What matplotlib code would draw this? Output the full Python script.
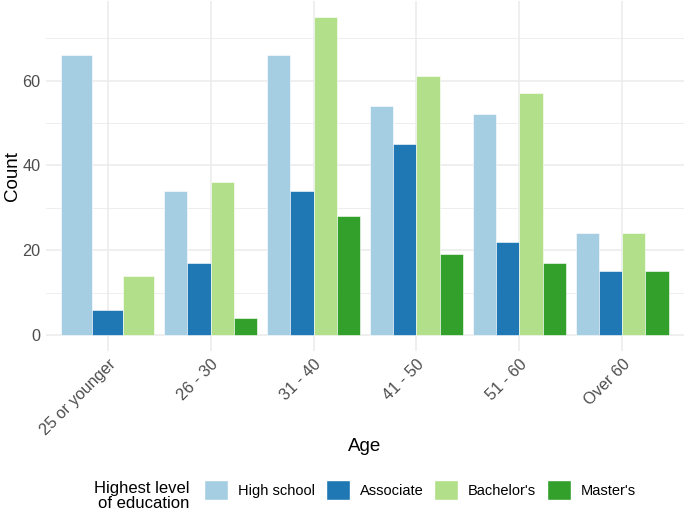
import numpy as np
import matplotlib.pyplot as plt
from matplotlib.patches import Patch

plt.rcParams['font.family'] = ['Liberation Sans', 'DejaVu Sans']

age_groups = ['25 or younger', '26 - 30', '31 - 40', '41 - 50', '51 - 60', 'Over 60']
levels = ['High school', 'Associate', "Bachelor's", "Master's"]
colors = ['#A6CEE3', '#1F78B4', '#B2DF8A', '#33A02C']

high_school = [66, 34, 66, 54, 52, 24]
associate = [6, 17, 34, 45, 22, 15]
bachelors = [14, 36, 75, 61, 57, 24]
masters = [None, 4, 28, 19, 17, 15]

series = [high_school, associate, bachelors, masters]

fig = plt.figure(figsize=(6.85, 5.14), dpi=100)
ax = fig.add_axes([46 / 685, 163 / 514, 638 / 685, 350 / 514])

grid_col = '#EBEBEB'
for v in [10, 30, 50, 70]:
    ax.axhline(v, color=grid_col, lw=0.6, zorder=0)
for v in [0, 20, 40, 60]:
    ax.axhline(v, color=grid_col, lw=1.1, zorder=0)
for i in range(len(age_groups)):
    ax.axvline(i + 1, color=grid_col, lw=1.1, zorder=0)

# dodge like ggplot: present bars share 0.9 of the slot
for i in range(len(age_groups)):
    present = [k for k in range(len(series)) if series[k][i] is not None]
    w = 0.9 / len(present)
    for j, k in enumerate(present):
        x = i + 1 - 0.45 + w * (j + 0.5)
        ax.bar(x, series[k][i], width=w, color=colors[k], edgecolor='white',
               linewidth=0.4, zorder=2)

ax.set_xlim(0.4, 6.6)
ax.set_ylim(-3.75, 78.75)
ax.set_xticks(range(1, len(age_groups) + 1))
ax.set_xticklabels(age_groups, rotation=45, ha='right', rotation_mode='anchor')
ax.set_yticks([0, 20, 40, 60])
ax.tick_params(length=0, labelsize=11.7, colors='#4D4D4D', pad=4)
for s in ax.spines.values():
    s.set_visible(False)

ax.set_xlabel('Age', fontsize=13.5, labelpad=0)
ax.set_ylabel('Count', fontsize=13.5, labelpad=1)

handles = [Patch(facecolor=c, edgecolor='white', label=l) for c, l in zip(colors, levels)]
fig.legend(handles=handles, loc='center left', bbox_to_anchor=(204 / 685, 1 - 490 / 514),
           ncol=4, frameon=False, fontsize=10.5, handlelength=1.64, handleheight=1.64,
           handletextpad=0.68, columnspacing=0.75, borderaxespad=0, borderpad=0)
fig.text(189 / 685, 1 - 496 / 514, 'Highest level\nof education', ha='right', va='center',
         multialignment='right', fontsize=12, linespacing=0.95)

fig.savefig('out.png', dpi=100)
